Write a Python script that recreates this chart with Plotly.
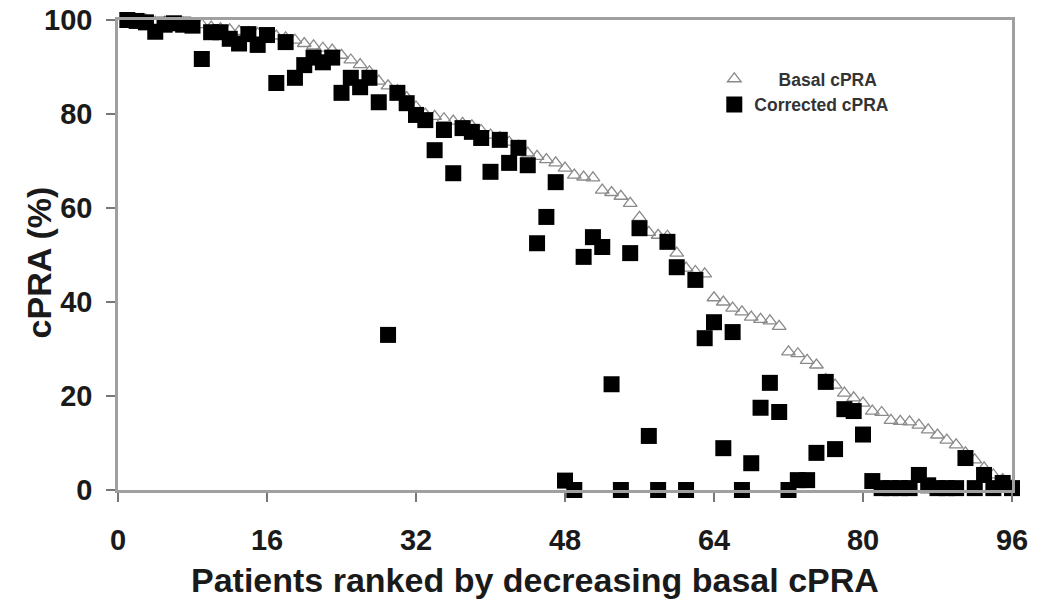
import plotly.graph_objects as go

patients = list(range(1, 97))

basal_cpra = [
    100, 100, 100, 99.5, 99.5, 99.4, 99.3, 99.1, 99.0, 98.5,
    98.2, 97.9, 97.6, 97.3, 97.1, 96.9, 96.6, 96.2, 95.7, 95.0,
    94.5, 94.0, 93.6, 92.5, 91.5, 90.5, 89.0, 87.0, 86.0, 85.0,
    83.5, 81.5, 80.0, 79.5, 79.0, 78.5, 78.0, 77.5, 76.5, 75.5,
    75.0, 74.0, 73.2, 71.7, 71.0, 70.3, 69.6, 68.5, 67.0, 66.6,
    66.4, 63.8, 63.3, 62.5, 61.0, 58.0, 54.8, 54.2, 54.0, 50.4,
    47.2, 46.5, 46.0, 40.9, 40.0, 38.7, 37.9, 36.8, 36.3, 36.0,
    34.8, 29.4, 29.0, 27.6, 26.6, 23.5, 22.3, 20.6, 19.6, 18.5,
    16.8, 16.5, 14.8, 14.6, 14.5, 13.8, 12.8, 11.7, 10.6, 9.6,
    7.9, 6.4, 4.7, 3.2, 2.2, 0.9,
]

corrected_cpra = [
    100, 99.8, 99.5, 97.5, 99.0, 99.3, 99.0, 98.8, 91.7, 97.4,
    97.4, 96.0, 95.0, 97.0, 94.7, 96.8, 86.6, 95.3, 87.7, 90.4,
    92.0, 91.0, 92.0, 84.5, 87.7, 85.7, 87.7, 82.5, 33.0, 84.5,
    82.3, 79.8, 78.7, 72.3, 76.6, 67.4, 77.0, 76.2, 74.9, 67.7,
    74.5, 69.6, 72.8, 69.1, 52.5, 58.1, 65.5, 2.0, 0.0, 49.6,
    53.8, 51.7, 22.5, 0.0, 50.4, 55.7, 11.5, 0.0, 52.8, 47.4,
    0.0, 44.7, 32.3, 35.7, 8.9, 33.6, 0.0, 5.7, 17.5, 22.8,
    16.6, 0.0, 2.1, 2.1, 7.9, 23.0, 8.7, 17.2, 16.8, 11.8,
    1.9, 0.4, 0.4, 0.4, 0.4, 3.2, 1.0, 0.4, 0.4, 0.4,
    6.8, 0.4, 3.2, 0.4, 1.5, 0.4,
]

x_ticks = [0, 16, 32, 48, 64, 80, 96]
y_ticks = [0, 20, 40, 60, 80, 100]

x_title = "Patients ranked by decreasing basal cPRA"
y_title = "cPRA (%)"

FONT = "Liberation Sans, Arial, sans-serif"
TXT = "#1a1a1a"
AXC = "#a0a0a0"

fig = go.Figure()
fig.add_trace(go.Scatter(
    x=patients, y=basal_cpra, mode="markers",
    name="\u00a0\u00a0\u00a0\u00a0\u00a0Basal cPRA",
    marker=dict(symbol="triangle-up-open", size=12, color="#8a8a8a",
                line=dict(width=1.3, color="#8a8a8a")),
    cliponaxis=False,
))
fig.add_trace(go.Scatter(
    x=patients, y=corrected_cpra, mode="markers",
    name="Corrected cPRA",
    marker=dict(symbol="square", size=16, color="#000000",
                line=dict(width=0)),
    cliponaxis=False,
))

fig.update_layout(
    width=1041, height=605,
    margin=dict(l=118, r=29, t=20, b=115, autoexpand=False),
    paper_bgcolor="white", plot_bgcolor="white",
    font=dict(family=FONT, color=TXT),
    showlegend=True,
    legend=dict(
        x=0.667, y=0.913, xanchor="left", yanchor="top",
        bgcolor="rgba(0,0,0,0)",
        font=dict(size=17.5, family=FONT, color="#333333", weight="bold"),
        tracegroupgap=0, itemsizing="trace",
    ),
)

fig.update_xaxes(
    range=[0, 96], tickmode="array", tickvals=x_ticks,
    ticktext=[str(v) for v in x_ticks],
    showgrid=False, zeroline=False, automargin=False,
    showline=True, linecolor=AXC, linewidth=2.5, mirror=True,
    ticks="outside", ticklen=9, tickwidth=1.5, tickcolor="#777777",
    tickfont=dict(size=29, family=FONT, color=TXT, weight="bold"),
    ticklabelstandoff=13, ticklabeloverflow="allow",
)
fig.update_yaxes(
    range=[0, 100], tickmode="array", tickvals=y_ticks,
    ticktext=[str(v) for v in y_ticks],
    showgrid=False, zeroline=False, automargin=False,
    showline=True, linecolor=AXC, linewidth=2.5, mirror=True,
    ticks="outside", ticklen=9, tickwidth=1.5, tickcolor="#777777",
    tickfont=dict(size=29, family=FONT, color=TXT, weight="bold"),
    ticklabelstandoff=8, ticklabeloverflow="allow",
)

fig.add_annotation(
    text=x_title, showarrow=False,
    xref="paper", yref="paper", x=0.466, y=-0.192,
    xanchor="center", yanchor="middle",
    font=dict(size=34, family=FONT, color=TXT, weight="bold"),
)
fig.add_annotation(
    text=y_title, textangle=-90, showarrow=False,
    xref="paper", yref="paper", x=-0.088, y=0.485,
    xanchor="center", yanchor="middle",
    font=dict(size=34, family=FONT, color=TXT, weight="bold"),
)

fig.write_html("out.html", config={"displayModeBar": False},
               post_script="document.body.style.margin='0';")
